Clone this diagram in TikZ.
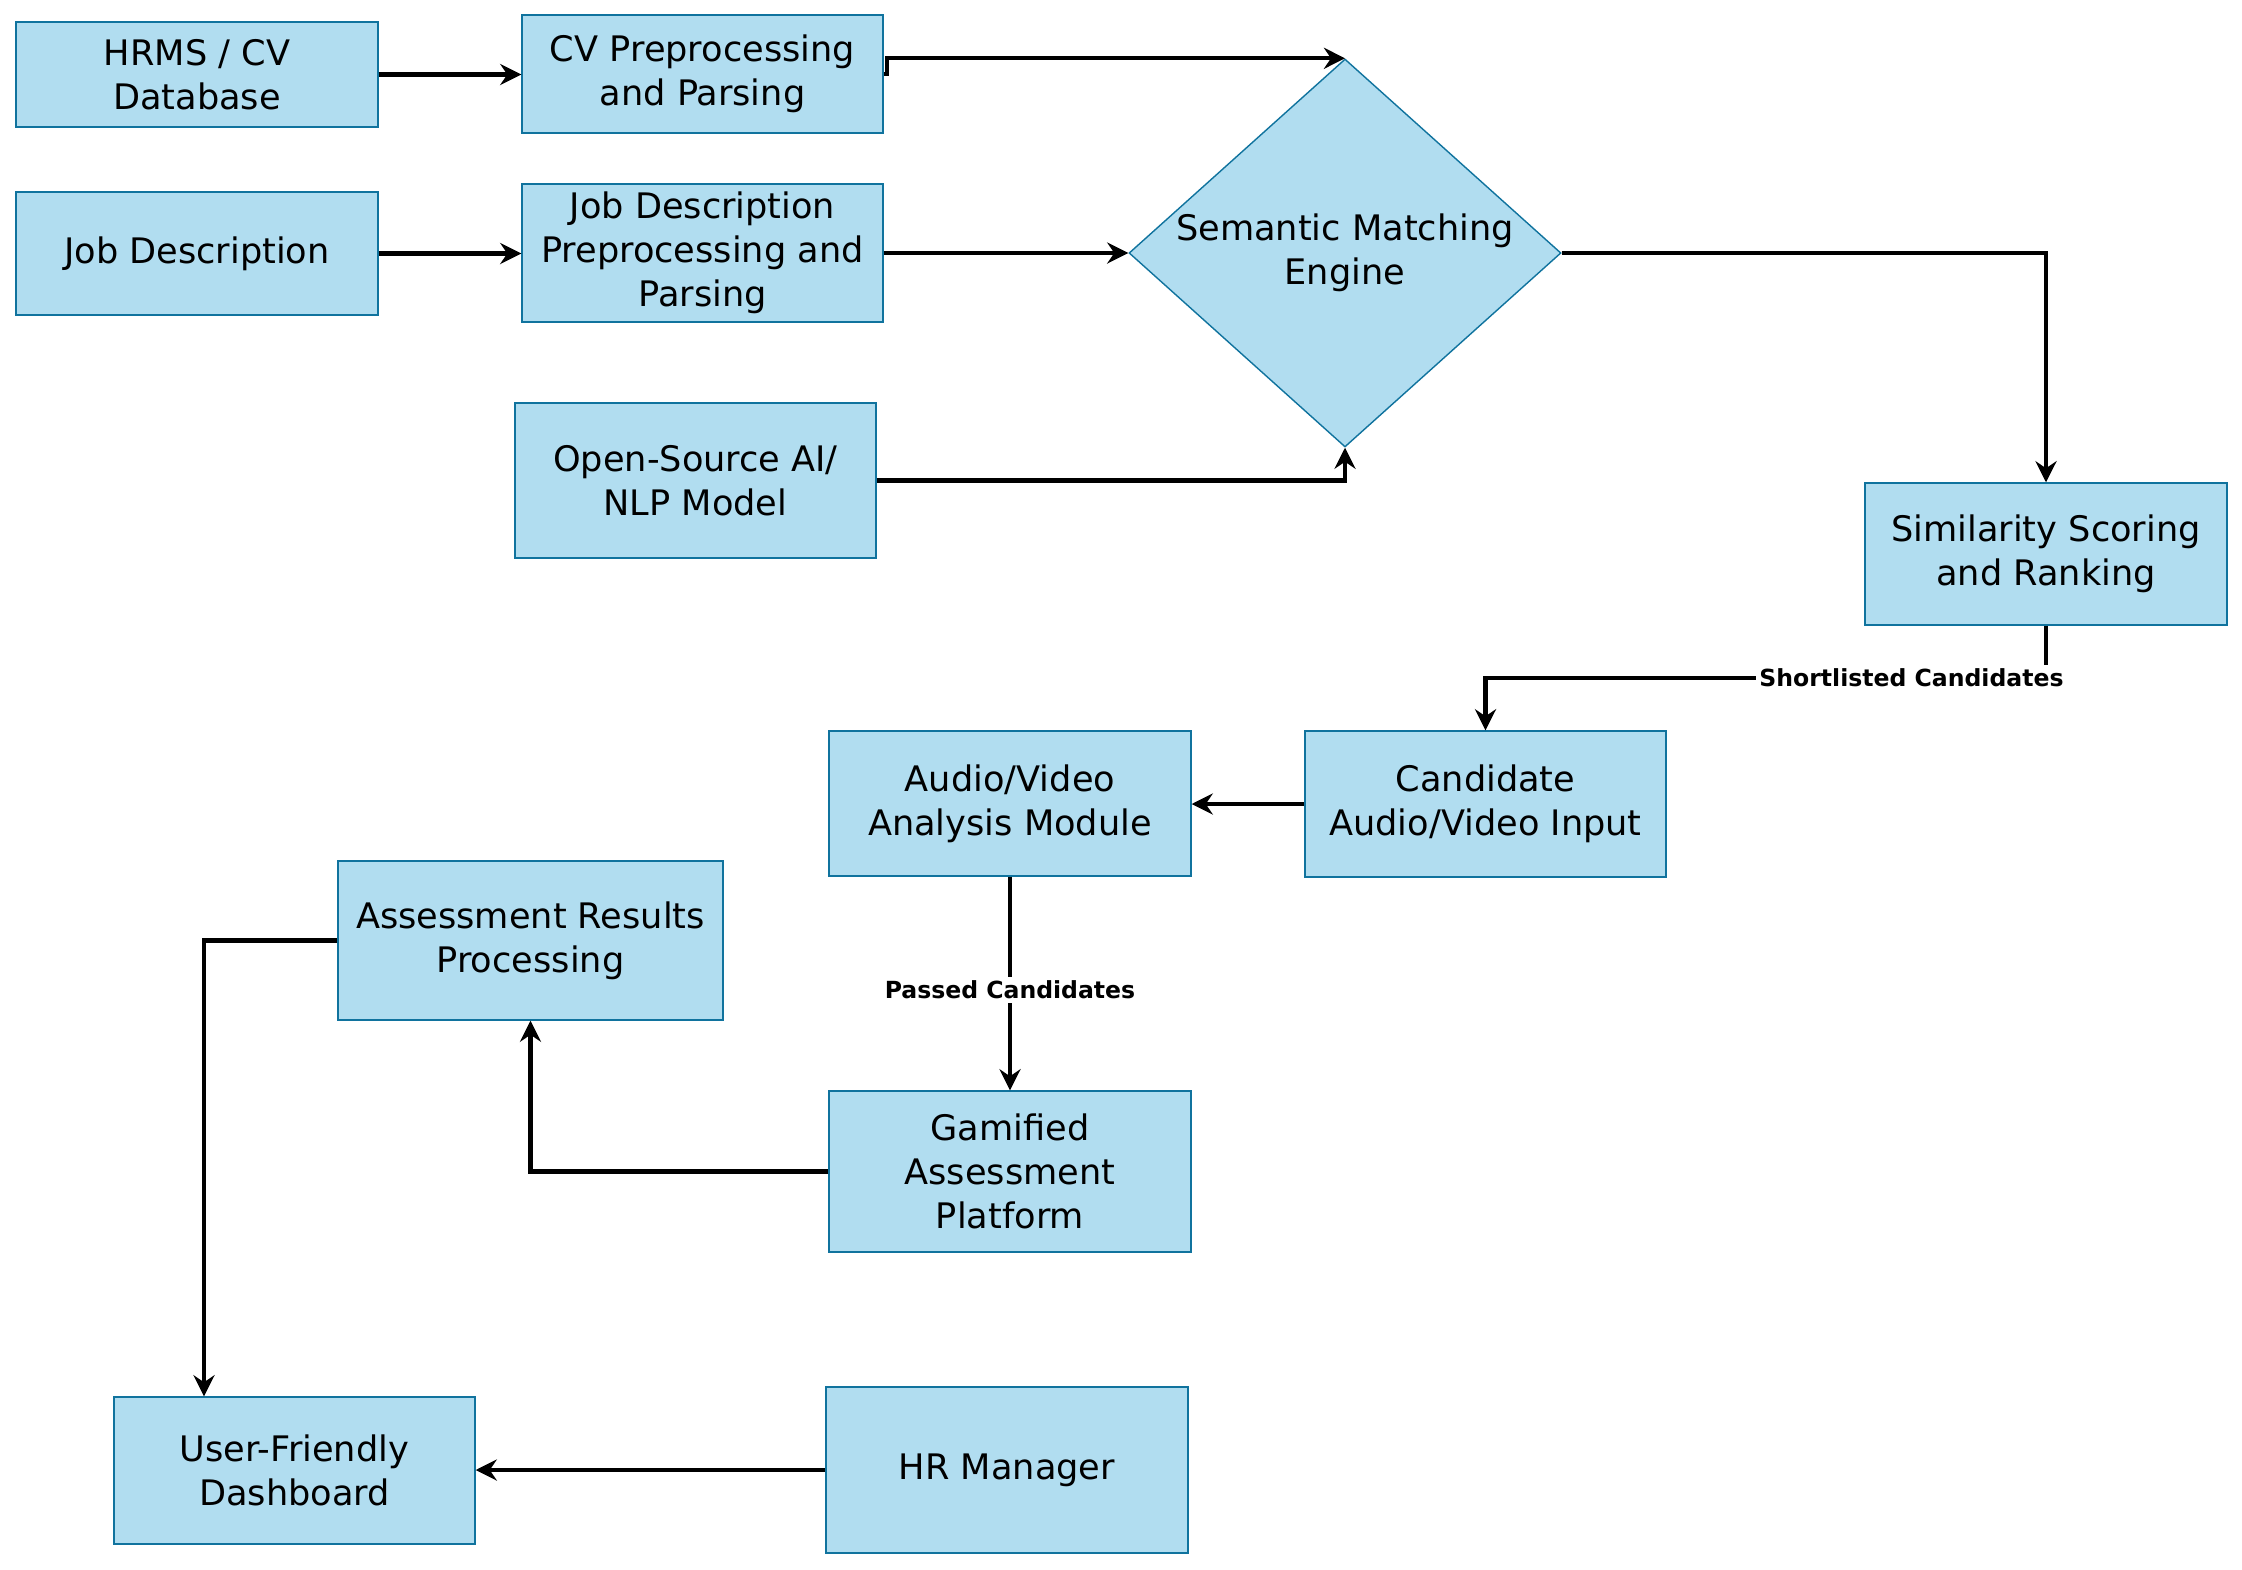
\documentclass[tikz,border=0pt]{standalone}
\usepackage{fontspec}
\setmainfont{DejaVu Sans}
\usetikzlibrary{shapes.geometric,arrows.meta}
\definecolor{boxfill}{HTML}{B1DDF0}
\definecolor{boxline}{HTML}{10739E}

\begin{document}
\begin{tikzpicture}[
  font=\fontsize{10}{12.5}\selectfont,
  block/.style={draw=boxline, fill=boxfill, line width=0.4pt, align=center, inner sep=2pt},
  decision/.style={diamond, draw=boxline, fill=boxfill, line width=0.4pt, align=center, inner sep=0pt, aspect=1.113},
  flow/.style={-{Stealth[length=6pt,width=6pt,inset=2pt]}, line width=1.2pt},
  tag/.style={fill=white, font=\fontsize{6.7}{8}\selectfont\bfseries, inner sep=1pt}
]
  \useasboundingbox (0,0) rectangle (22.42,-15.70);
  \node[block, minimum width=3.62cm, minimum height=1.05cm] (hrms) at (1.97,-0.745) {HRMS / CV\\Database};
  \node[block, minimum width=3.61cm, minimum height=1.18cm] (cvprep) at (7.025,-0.74) {CV Preprocessing\\and Parsing};
  \node[block, minimum width=3.62cm, minimum height=1.23cm] (jd) at (1.97,-2.535) {Job Description};
  \node[block, minimum width=3.61cm, minimum height=1.38cm] (jdprep) at (7.025,-2.53) {Job Description\\Preprocessing and\\Parsing};
  \node[block, minimum width=3.61cm, minimum height=1.55cm] (nlp) at (6.955,-4.805) {Open-Source AI/\\NLP Model};
  \node[decision, minimum width=4.32cm, minimum height=3.88cm] (sme) at (13.45,-2.53) {Semantic Matching\\Engine};
  \node[block, minimum width=3.62cm, minimum height=1.42cm] (sim) at (20.46,-5.54) {Similarity Scoring\\and Ranking};
  \node[block, minimum width=3.61cm, minimum height=1.46cm] (cand) at (14.855,-8.04) {Candidate\\Audio/Video Input};
  \node[block, minimum width=3.62cm, minimum height=1.45cm] (av) at (10.10,-8.035) {Audio/Video\\Analysis Module};
  \node[block, minimum width=3.85cm, minimum height=1.59cm] (arp) at (5.305,-9.405) {Assessment Results\\Processing};
  \node[block, minimum width=3.62cm, minimum height=1.61cm] (gam) at (10.10,-11.715) {Gamified\\Assessment\\Platform};
  \node[block, minimum width=3.61cm, minimum height=1.47cm] (ufd) at (2.945,-14.705) {User-Friendly\\Dashboard};
  \node[block, minimum width=3.62cm, minimum height=1.66cm] (hr) at (10.07,-14.70) {HR Manager};

  \draw[flow] (hrms.east) -- (hrms.east -| cvprep.west);
  \draw[flow] (cvprep.east) -- ++(0.03,0) |- (sme.north);
  \draw[flow] (jd.east) -- (jd.east -| jdprep.west);
  \draw[flow] (jdprep.east) -- (sme.west);
  \draw[flow] (nlp.east) -| (sme.south);
  \draw[flow] (sme.east) -| (sim.north);
  \draw[flow] (sim.south) -- ++(0,-0.52) -| (cand.north) node[tag, pos=0.12] (short) {Shortlisted Candidates};
  \draw[flow] (cand.west) -- (cand.west -| av.east);
  \draw[flow] (av.south) -- (gam.north) node[tag, pos=0.53] (passed) {Passed Candidates};
  \draw[flow] (gam.west) -| (arp.south);
  \draw[flow] (arp.west) -| ([xshift=-0.905cm]ufd.north);
  \draw[flow] (hr.west) -- (hr.west -| ufd.east);
\end{tikzpicture}
\end{document}
